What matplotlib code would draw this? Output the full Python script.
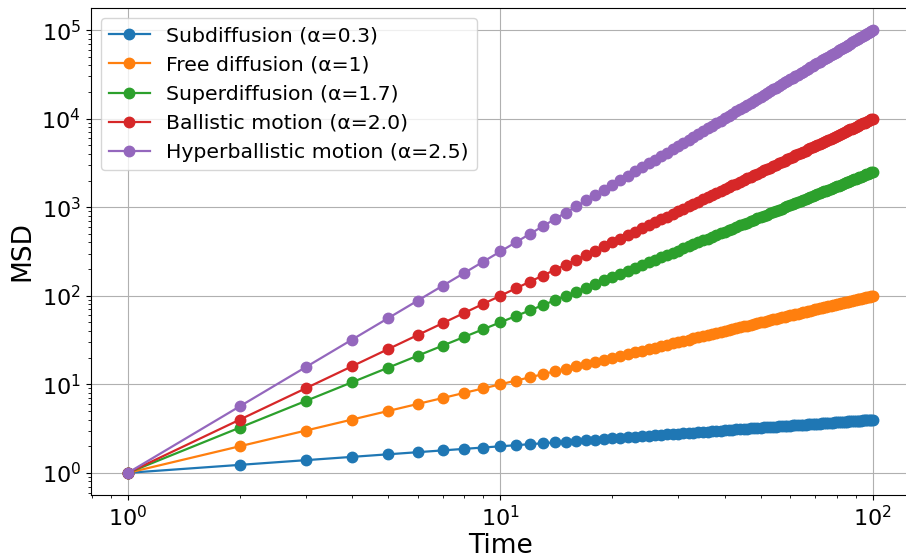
import matplotlib.pyplot as plt
import numpy as np

times = np.arange(1, 101)
labels = ['Subdiffusion (α=0.3)', 'Free diffusion (α=1)', 'Superdiffusion (α=1.7)',
          'Ballistic motion (α=2.0)', 'Hyperballistic motion (α=2.5)']
alphas = [0.3, 1.0, 1.7, 2.0, 2.5]

fig = plt.figure(figsize=(9.06, 5.59), dpi=100)
# axes run slightly past the right edge, as in the cropped original
ax = fig.add_axes([0.1000, 0.1145, 0.9045, 0.8712])

for lab, a in zip(labels, alphas):
    ax.plot(times, times ** a, 'o-', markersize=7.5, linewidth=1.6, label=lab)

ax.set_xscale('log')
ax.set_yscale('log')
ax.set_xlabel('Time', fontsize=19, labelpad=2)
ax.set_ylabel('MSD', fontsize=19)
ax.tick_params(labelsize=16)
ax.spines['right'].set_visible(False)  # lies beyond the cropped edge
ax.grid(True)
ax.legend(loc='upper left', fontsize=14.7)

fig.savefig('out.png', dpi=100)
